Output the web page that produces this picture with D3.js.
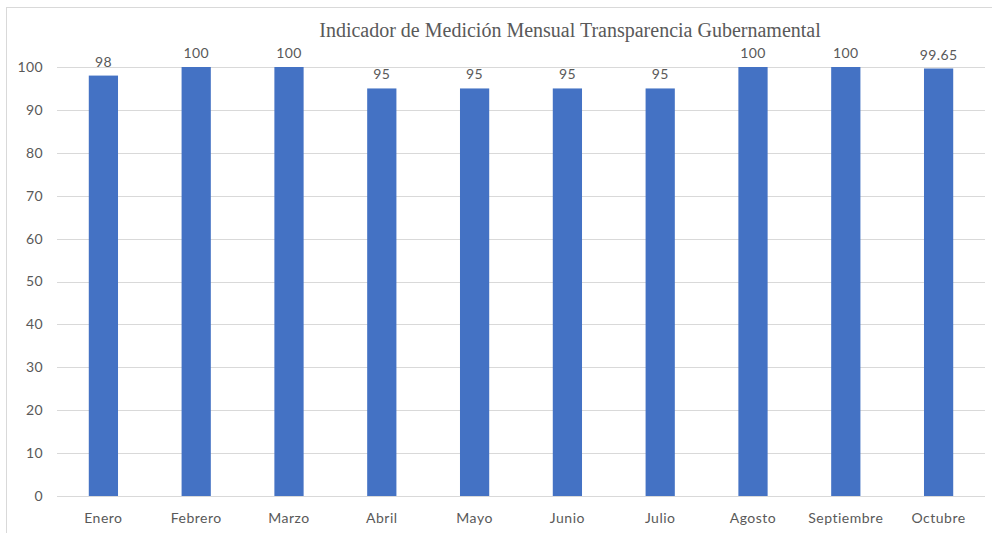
<!DOCTYPE html>
<html>
<head>
<meta charset="utf-8">
<script src="https://cdn.jsdelivr.net/npm/d3@7"></script>
<style>
  body { margin: 0; background: #fff; }
  text { font-family: "Lato", "Noto Sans", sans-serif; fill: #595959; }
</style>
</head>
<body>
<svg id="chart" width="992" height="533"></svg>
<script>
// data
const months = ["Enero", "Febrero", "Marzo", "Abril", "Mayo", "Junio", "Julio", "Agosto", "Septiembre", "Octubre"];
const values = [98, 100, 100, 95, 95, 95, 95, 100, 100, 99.65];
const yTicks = [0, 10, 20, 30, 40, 50, 60, 70, 80, 90, 100];
const title = "Indicador de Medición Mensual Transparencia Gubernamental";

const svg = d3.select("#chart");
const plotLeft = 57, plotRight = 985, plotTop = 67, plotBottom = 496;

// chart frame
svg.append("rect")
    .attr("x", 6.5).attr("y", 7.5)
    .attr("width", 1000).attr("height", 600)
    .attr("fill", "none")
    .attr("stroke", "#d9d9d9");

const x = d3.scaleBand()
    .domain(months)
    .range([plotLeft, plotRight])
    .paddingInner(0.685)
    .paddingOuter(0.3425);

const y = d3.scaleLinear()
    .domain([0, 100])
    .range([plotBottom, plotTop]);

// gridlines
svg.append("g")
    .selectAll("line")
    .data(yTicks)
    .join("line")
        .attr("x1", plotLeft).attr("x2", plotRight)
        .attr("y1", d => Math.round(y(d)) + 0.5)
        .attr("y2", d => Math.round(y(d)) + 0.5)
        .attr("stroke", "#d9d9d9");

// y tick labels
svg.append("g")
    .selectAll("text")
    .data(yTicks)
    .join("text")
        .attr("x", 43)
        .attr("y", d => y(d))
        .attr("dy", "0.35em")
        .attr("text-anchor", "end")
        .style("font-size", "14px")
        .style("letter-spacing", "0.4px")
        .text(d => d);

// bars
svg.append("g")
    .selectAll("rect")
    .data(values)
    .join("rect")
        .attr("x", (d, i) => x(months[i]))
        .attr("y", d => y(d))
        .attr("width", x.bandwidth())
        .attr("height", d => y(0) - y(d))
        .attr("fill", "#4472c4");

// data labels
svg.append("g")
    .selectAll("text")
    .data(values)
    .join("text")
        .attr("x", (d, i) => x(months[i]) + x.bandwidth() / 2)
        .attr("y", d => y(d) - 9)
        .attr("text-anchor", "middle")
        .style("font-size", "14px")
        .style("letter-spacing", "0.4px")
        .text(d => d);

// x labels
svg.append("g")
    .selectAll("text")
    .data(months)
    .join("text")
        .attr("x", d => x(d) + x.bandwidth() / 2)
        .attr("y", 523)
        .attr("text-anchor", "middle")
        .style("font-size", "14px")
        .style("letter-spacing", "0.5px")
        .text(d => d);

// title
svg.append("text")
    .attr("x", 570)
    .attr("y", 37)
    .attr("text-anchor", "middle")
    .style("font-family", "'Liberation Serif', 'DejaVu Serif', serif")
    .style("font-size", "20px")
    .text(title);
</script>
</body>
</html>
